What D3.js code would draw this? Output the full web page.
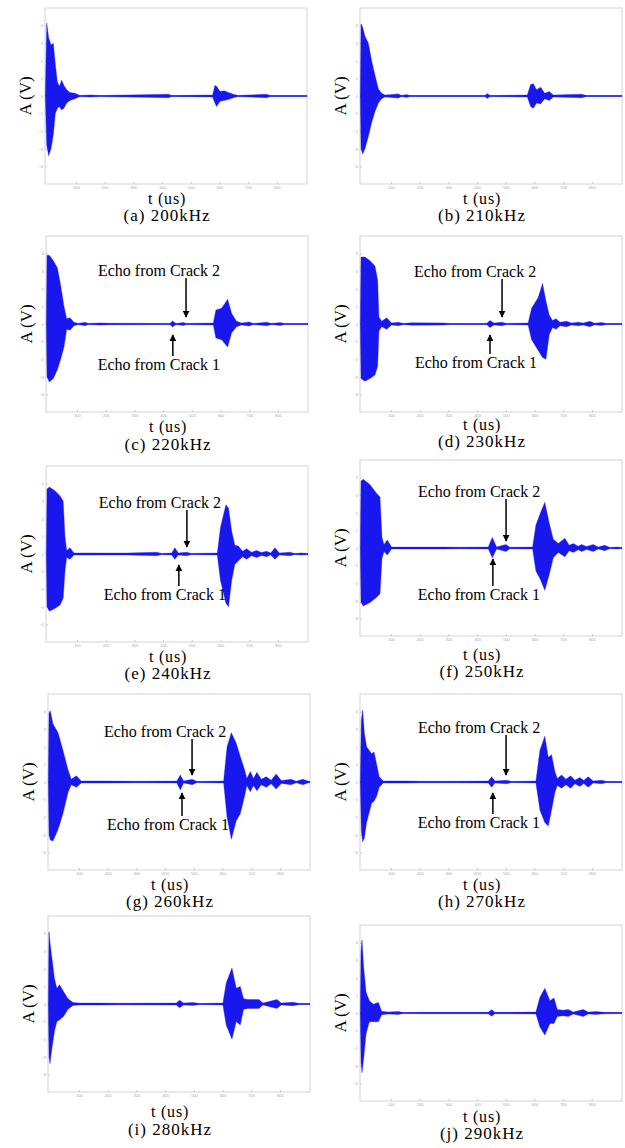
<!DOCTYPE html>
<html>
<head>
<meta charset="utf-8">
<script src="https://cdn.jsdelivr.net/npm/d3@7/dist/d3.min.js"></script>
<style>
  body { margin: 0; background: #fff; }
  text { font-family: "Liberation Serif", "Times New Roman", serif; }
</style>
</head>
<body>
<svg id="fig" width="625" height="1148"></svg>
<script>
// captions and axis labels
const captions = ["(a) 200kHz", "(b) 210kHz", "(c) 220kHz", "(d) 230kHz", "(e) 240kHz",
                  "(f) 250kHz", "(g) 260kHz", "(h) 270kHz", "(i) 280kHz", "(j) 290kHz"];
const xTicks = [100, 200, 300, 400, 500, 600, 700, 800];
const yTicks = [-4, -3, -2, -1, 0, 1, 2, 3, 4];

// envelope of each received signal: [t (us), upper] or [t, upper, lower] (V)
const sig200 = [[-7,0],[-2,4.15,-2.8],[4.8,3.3,-3.4],[13,2.9,-3.0],[21,3.0,-2.2],[28,1.8,-1.0],
  [35,0.8,-0.7],[42,0.55,-0.6],[50,0.9,-0.8],[58,0.6,-0.7],[67.5,0.35,-0.4],[79,0.2,-0.25],
  [96.5,0.15],[114,0.03],[149,0.06],[184,0.03],[422,0.1],[433,0.03],[576,0.05],[584,0.6,-0.4],
  [590,0.55,-0.6],[602,0.25,-0.3],[616,0.3,-0.25],[631,0.2],[648,0.1],[665,0.03],[764,0.1],
  [776,0.03],[905,0.03]];
const sig210 = [[-7,0],[-4.5,4.1,-3.0],[1.3,3.9,-3.3],[9.4,3.4,-3.0],[21,3.0,-2.3],[32.6,2.0,-1.5],
  [44,1.2,-0.9],[56,0.4],[67.5,0.15],[79,0.05],[125.5,0.12],[137,0.03],[154.5,0.08],[166,0.03],
  [427.5,0.03],[435.6,0.14],[445,0.03],[575,0.05],[586.6,0.65,-0.6],[596,0.7],[607.5,0.35,-0.4],
  [621,0.5,-0.45],[636,0.15],[651.5,0.25],[665.6,0.05],[764,0.1],[781,0.03],[905,0.03]];
const sig220 = [[-7,0],[-4.5,3.9,-3.0],[3.6,3.9,-3.3],[17.5,3.6,-3.1],[31.5,3.2,-2.6],[43,2.2,-2.0],
  [54.7,1.0,-1.3],[64,0.3],[75.6,0.35],[89.5,0.1],[104.6,0.03],[128,0.1],[139.5,0.03],[180,0.06],
  [215,0.04],[424,0.03],[433,0.17],[445,0.03],[470,0.08],[482,0.03],[575,0.05],[584,0.8],
  [604,0.9],[625,1.4,-1.3],[639,0.6,-0.5],[656,0.15],[673.5,0.05],[700,0.12],[714,0.03],
  [760.6,0.1],[778,0.03],[808,0.08],[824.5,0.03],[905,0.03]];
const sig230 = [[-7,0],[-4.5,3.8,-3.1],[9.4,3.8,-3.25],[27,3.6,-3.1],[44,3.3,-2.9],[53.5,2.5,-2.4],
  [58,0.4],[67.5,0.15],[85,0.35,-0.3],[102,0.05],[125.5,0.1],[143,0.03],[172,0.07],[282,0.06],
  [305,0.03],[433,0.03],[445,0.2],[459,0.05],[485.5,0.1],[503,0.03],[578,0.05],[590,0.9],
  [613,1.5],[628,2.3,-1.9],[640,1.3,-2.0],[651.5,0.5,-0.6],[663,0.2],[675,0.3],[689,0.1],
  [712,0.15],[729,0.05],[752.5,0.1],[770,0.05],[793,0.15],[810,0.04],[834,0.08],[851,0.03],[905,0.03]];
const sig240 = [[-7,0],[-4.5,3.7,-3.0],[3.6,3.8,-3.25],[23,3.6,-3.1],[41,3.3,-2.9],[52,3.0,-2.5],
  [58,1.0],[64,0.2],[75.6,0.35,-0.3],[89.5,0.05],[133.6,0.06],[203,0.05],[273,0.05],[377.5,0.1],
  [395,0.03],[430,0.05],[441,0.35,-0.3],[453,0.05],[482,0.1],[499,0.03],[589,0.05],[600,1.5],
  [619,2.8],[628,2.6,-3.0],[639,1.3,-1.5],[650,0.5,-0.6],[662,0.45,-0.4],[677,0.15],[691,0.3],
  [708,0.1],[726,0.2],[743,0.08],[761,0.15],[775,0.05],[790,0.35,-0.3],[805,0.05],[842,0.1],
  [859,0.03],[882.5,0.06],[905,0.03]];
const sig250 = [[-7,0],[-4.5,3.8,-3.1],[3.6,3.9,-3.3],[27,3.6,-3.1],[50,3.1,-2.8],[61.7,2.9,-2.6],
  [68.6,0.6],[75.6,0.2],[87,0.45,-0.4],[102,0.05],[154.5,0.05],[282,0.05],[340,0.04],[439,0.05],
  [453,0.6,-0.55],[468,0.05],[500.6,0.2],[514.5,0.04],[593.5,0.05],[605,1.3],[621,2.0,-1.8],
  [636,2.6,-2.4],[651.5,1.4,-1.5],[665.5,0.5,-0.55],[683,0.25],[706,0.55,-0.5],[721,0.15],
  [735,0.25],[752.5,0.1],[764,0.2],[781.5,0.08],[805,0.2],[822,0.05],[845,0.15],[863,0.03],
  [886,0.05],[905,0.03]];
const sig260 = [[-7,0],[-4.5,3.9,-3.0],[0,4.05,-3.3],[9.4,3.3,-3.35],[27,2.8,-2.7],[44,1.8],
  [61.7,0.7,-0.6],[73,0.15],[91,0.35,-0.3],[108,0.05],[149,0.06],[218,0.05],[311,0.04],[441,0.05],
  [453,0.4,-0.45],[464.5,0.05],[494.6,0.15],[511,0.03],[604,0.05],[616,2.0],[631,2.8,-3.25],
  [648,2.2],[662,1.45,-1.8],[677,0.7,-0.8],[685,0.2],[697,0.6,-0.55],[708,0.2],[720,0.55,-0.5],
  [735,0.15],[752.5,0.3],[770,0.1],[787,0.45,-0.4],[805,0.08],[839.5,0.15],[857,0.04],[880,0.15],
  [898,0.05],[905,0.03]];
const sig270 = [[-7,0],[-3.4,3.5,-2.8],[1.3,4.1,-3.4],[7,2.8,-3.2],[15,2.0,-2.3],[32.6,1.6,-1.2],
  [41,1.7,-1.1],[50,1.0,-0.8],[59,0.3],[73,0.05],[96.5,0.06],[154.5,0.06],[201,0.04],[305.5,0.04],
  [439,0.05],[451,0.3],[462,0.05],[503,0.1],[520,0.03],[605,0.05],[619,1.8,-1.6],[636,2.6,-2.3],
  [648,1.4,-2.5],[659.5,1.55,-1.6],[671,0.6],[679.5,0.2],[694.6,0.4,-0.35],[709.6,0.15],
  [726,0.35],[741,0.1],[758,0.25],[772,0.08],[787,0.3],[805,0.05],[834,0.1],[851,0.03],[905,0.03]];
const sig280 = [[-7,0],[-4.5,4.1,-3.0],[-1,3.5,-3.4],[5,2.7,-2.6],[15,1.4,-1.5],[23,0.9,-1.0],
  [32.6,1.1,-0.9],[46.6,0.7],[61.7,0.3],[79,0.08],[102,0.05],[172,0.05],[241.6,0.04],[439,0.05],
  [450.6,0.22],[464.5,0.05],[497,0.08],[520,0.03],[601.5,0.05],[613,1.2],[633,2.05,-2.0],
  [648,0.9,-1.0],[662,1.0,-1.2],[673.5,0.3],[689,0.25],[712,0.25],[727,0.25],[741,0.05],
  [776,0.2],[790,0.25],[805,0.05],[845,0.1],[869,0.03],[905,0.03]];
const sig290 = [[-7,0],[-4.5,3.5,-2.8],[-1,4.15,-3.4],[4.8,2.6],[13,1.2],[24.5,0.7,-0.5],
  [38.4,0.5],[56,0.6,-0.5],[67.5,0.1],[90.7,0.05],[125.5,0.08],[143,0.03],[224,0.04],[439,0.04],
  [451,0.18],[462,0.04],[514.5,0.04],[605,0.05],[619,0.9,-0.8],[636,1.4,-1.25],[654,0.7,-0.6],
  [668,0.85,-0.6],[679.5,0.2],[700,0.15],[718,0.2],[735,0.05],[770,0.2],[787,0.05],[816,0.08],
  [840,0.04],[905,0.03]];
const signals = [sig200, sig210, sig220, sig230, sig240, sig250, sig260, sig270, sig280, sig290];

// arrival times of the two crack echoes marked on panels (c)-(h)
const crack1 = [null, null, 434, 445, 455, 455, 459, 455, null, null];
const crack2 = [null, null, 480, 487, 483, 501, 494, 501, null, null];

// panel placement
const W = 262, H = 176;
const layout = [
  { x0: 45,  zero: 96,   tOff: 20, capOff: 37 },
  { x0: 360, zero: 96,   tOff: 20, capOff: 37 },
  { x0: 46,  zero: 324,  tOff: 20, capOff: 38 },
  { x0: 360, zero: 324,  tOff: 18, capOff: 35 },
  { x0: 46,  zero: 554,  tOff: 20, capOff: 37 },
  { x0: 360, zero: 548,  tOff: 24, capOff: 41 },
  { x0: 48,  zero: 782,  tOff: 20, capOff: 37 },
  { x0: 360, zero: 782,  tOff: 20, capOff: 37 },
  { x0: 48,  zero: 1004, tOff: 25, capOff: 43 },
  { x0: 360, zero: 1013, tOff: 21, capOff: 38 }
];
const ann = [null, null,
  { t2: -48, t1: 46 }, { t2: -47, t1: 44 }, { t2: -46, t1: 46 },
  { t2: -51, t1: 52 }, { t2: -45, t1: 48 }, { t2: -49, t1: 46 }, null, null];

const svg = d3.select("#fig");
const defs = svg.append("defs");
defs.append("marker").attr("id", "head")
  .attr("viewBox", "0 0 10 10").attr("refX", 9).attr("refY", 5)
  .attr("markerWidth", 7).attr("markerHeight", 7).attr("markerUnits", "userSpaceOnUse")
  .attr("orient", "auto")
  .append("path").attr("d", "M0,0 L10,5 L0,10 Z").attr("fill", "#000");

const BLUE = "#1818ee";

signals.forEach((sig, i) => {
  const L = layout[i];
  const x = d3.scaleLinear().domain([-8, 905]).range([L.x0, L.x0 + W]);
  const y = d3.scaleLinear().domain([-5, 5]).range([L.zero + H / 2, L.zero - H / 2]);
  const g = svg.append("g").attr("class", "panel");
  const bottom = L.zero + H / 2;

  // frame
  g.append("rect").attr("x", L.x0).attr("y", L.zero - H / 2).attr("width", W).attr("height", H)
    .attr("fill", "none").attr("stroke", "#d4d4d4").attr("stroke-width", 1);

  // axes (tiny, faint, as in the scanned figure)
  const ax = g.append("g").attr("transform", `translate(0,${bottom})`)
    .call(d3.axisBottom(x).tickValues(xTicks).tickSize(-2).tickPadding(2));
  const ay = g.append("g").attr("transform", `translate(${L.x0},0)`)
    .call(d3.axisLeft(y).tickValues(yTicks).tickSize(-2).tickPadding(2));
  [ax, ay].forEach(a => {
    a.select(".domain").remove();
    a.selectAll("line").attr("stroke", "#c8c8c8");
    a.selectAll("text").attr("fill", "#a8a8a8").style("font-size", "4px")
      .style("font-family", "Liberation Sans, sans-serif");
  });

  // baseline trace
  g.append("line").attr("x1", x(-7)).attr("x2", x(905)).attr("y1", y(0)).attr("y2", y(0))
    .attr("stroke", "#6c6cf4").attr("stroke-width", 1.6);

  // signal envelope
  const area = d3.area()
    .x(d => x(d[0]))
    .y1(d => y(d[1]))
    .y0(d => y(d.length > 2 ? d[2] : -d[1]));
  g.append("path").datum(sig).attr("d", area).attr("fill", BLUE).attr("stroke", BLUE)
    .attr("stroke-width", 0.6).attr("stroke-opacity", 0.6);

  // labels
  const cx = L.x0 + W / 2 - 9;
  g.append("text").attr("x", cx).attr("y", bottom + L.tOff).attr("text-anchor", "middle")
    .style("font-size", "16px").style("letter-spacing", "0.8px").text("t (us)");
  g.append("text").attr("x", cx).attr("y", bottom + L.capOff).attr("text-anchor", "middle")
    .style("font-size", "17px").style("letter-spacing", "1px").text(captions[i]);
  g.append("text").attr("transform", `translate(${L.x0 - 14},${L.zero}) rotate(-90)`)
    .attr("text-anchor", "middle").style("font-size", "17px").text("A (V)");

  // echo annotations
  const a = ann[i];
  if (a) {
    const x2 = x(crack2[i]), x1 = x(crack1[i]);
    g.append("text").attr("x", x2 - 27).attr("y", L.zero + a.t2).attr("text-anchor", "middle")
      .style("font-size", "16px").text("Echo from Crack 2");
    g.append("line").attr("x1", x2).attr("x2", x2)
      .attr("y1", L.zero + a.t2 + 2).attr("y2", L.zero - 7)
      .attr("stroke", "#000").attr("stroke-width", 1.5).attr("marker-end", "url(#head)");
    g.append("text").attr("x", x1 - 14).attr("y", L.zero + a.t1).attr("text-anchor", "middle")
      .style("font-size", "16px").text("Echo from Crack 1");
    g.append("line").attr("x1", x1).attr("x2", x1)
      .attr("y1", L.zero + a.t1 - 14).attr("y2", L.zero + 11)
      .attr("stroke", "#000").attr("stroke-width", 1.5).attr("marker-end", "url(#head)");
  }
});
</script>
</body>
</html>
